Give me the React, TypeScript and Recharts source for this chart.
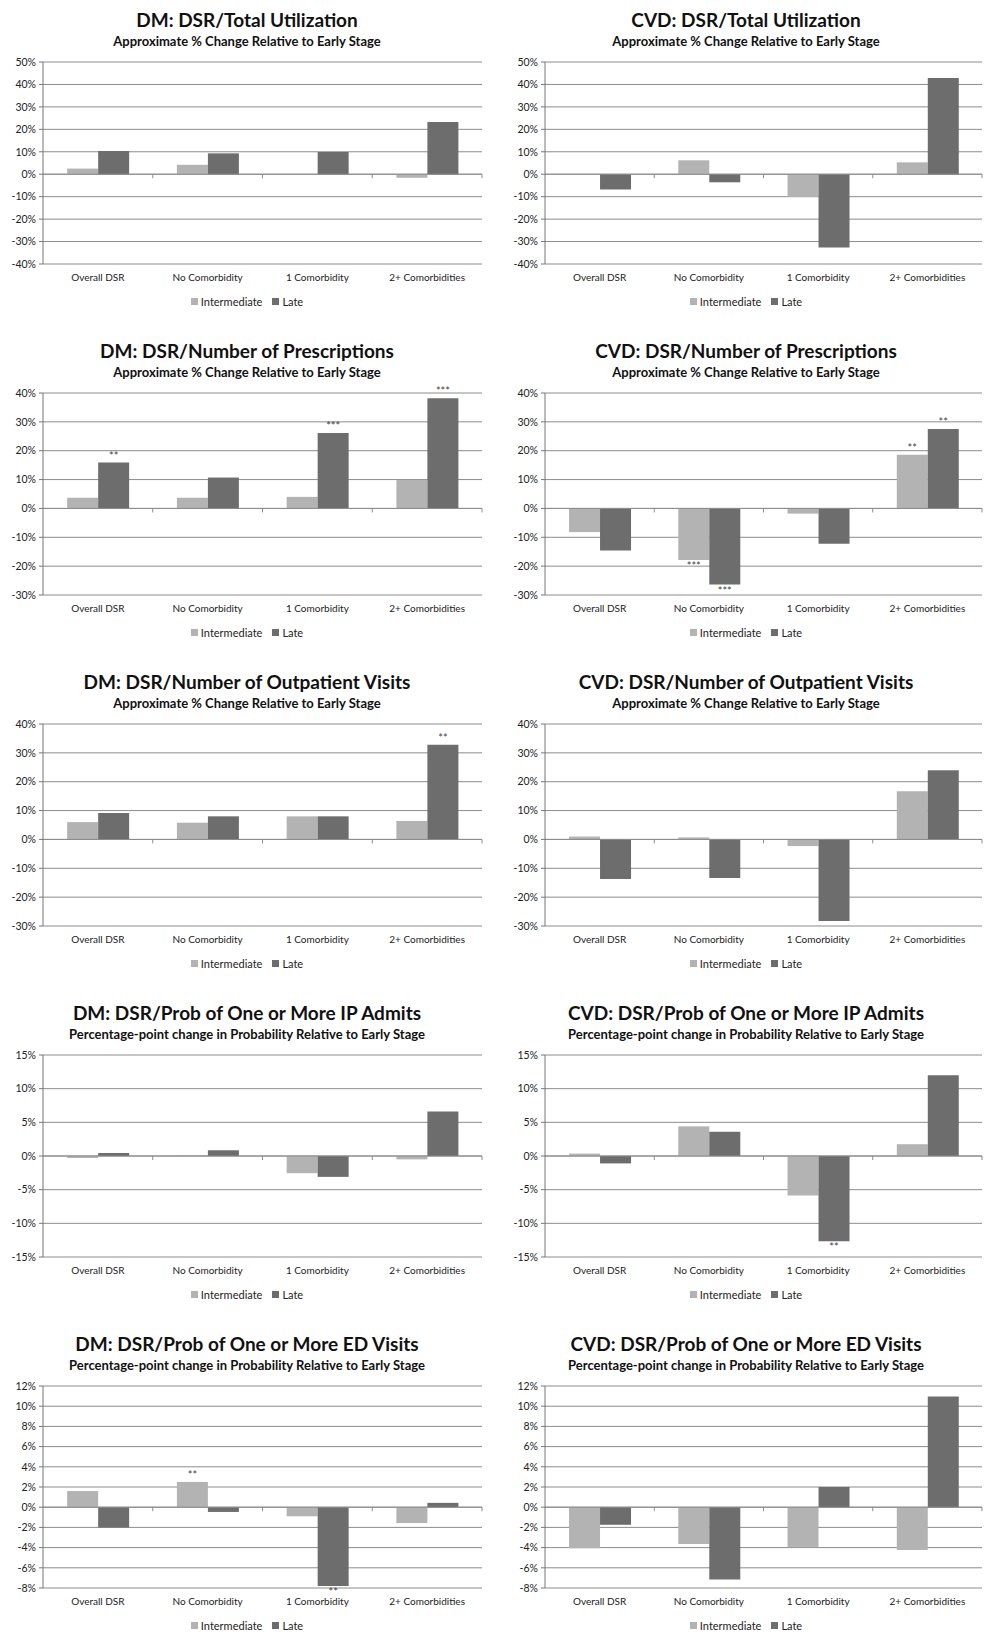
import React from 'react';
import { BarChart, Bar, XAxis, YAxis, CartesianGrid, ReferenceLine, LabelList } from 'recharts';

const categories = ['Overall DSR', 'No Comorbidity', '1 Comorbidity', '2+ Comorbidities'];
const seriesNames = ['Intermediate', 'Late'];

const ticksUtil = [-40, -30, -20, -10, 0, 10, 20, 30, 40, 50];
const ticksRx = [-30, -20, -10, 0, 10, 20, 30, 40];
const ticksIp = [-15, -10, -5, 0, 5, 10, 15];
const ticksEd = [-8, -6, -4, -2, 0, 2, 4, 6, 8, 10, 12];

// DM / CVD values, % change vs early stage
const dmUtilInt = [2.5, 4.2, -0.3, -1.6];
const dmUtilLate = [10.4, 9.3, 9.9, 23.3];
const cvdUtilInt = [0, 6.2, -10.2, 5.3];
const cvdUtilLate = [-6.8, -3.6, -32.6, 42.9];

const dmRxInt = [3.7, 3.7, 4.0, 9.9];
const dmRxLate = [15.9, 10.7, 26.1, 38.2];
const dmRxLateSig = ['**', '', '***', '***'];
const cvdRxInt = [-8.2, -17.9, -1.8, 18.6];
const cvdRxLate = [-14.6, -26.4, -12.2, 27.5];
const cvdRxIntSig = ['', '***', '', '**'];
const cvdRxLateSig = ['', '***', '', '**'];

const dmOpInt = [6.0, 5.8, 8.0, 6.4];
const dmOpLate = [9.2, 8.0, 8.0, 32.8];
const dmOpLateSig = ['', '', '', '**'];
const cvdOpInt = [1.0, 0.7, -2.3, 16.7];
const cvdOpLate = [-13.7, -13.4, -28.3, 24.0];

const dmIpInt = [-0.3, 0.15, -2.55, -0.5];
const dmIpLate = [0.45, 0.85, -3.1, 6.6];
const cvdIpInt = [0.35, 4.4, -5.85, 1.75];
const cvdIpLate = [-1.1, 3.6, -12.65, 12.0];
const cvdIpLateSig = ['', '', '**', ''];

const dmEdInt = [1.6, 2.5, -0.9, -1.57];
const dmEdLate = [-2.0, -0.47, -7.8, 0.43];
const dmEdIntSig = ['', '**', '', ''];
const dmEdLateSig = ['', '', '**', ''];
const cvdEdInt = [-4.07, -3.64, -3.97, -4.23];
const cvdEdLate = [-1.74, -7.15, 2.0, 10.95];

const noSig = ['', '', '', ''];
const subPct = 'Approximate % Change Relative to Early Stage';
const subPp = 'Percentage-point change in Probability Relative to Early Stage';

const panels = [
  { title: 'DM: DSR/Total Utilization', sub: subPct, ticks: ticksUtil, int: dmUtilInt, late: dmUtilLate, intSig: noSig, lateSig: noSig },
  { title: 'CVD: DSR/Total Utilization', sub: subPct, ticks: ticksUtil, int: cvdUtilInt, late: cvdUtilLate, intSig: noSig, lateSig: noSig },
  { title: 'DM: DSR/Number of Prescriptions', sub: subPct, ticks: ticksRx, int: dmRxInt, late: dmRxLate, intSig: noSig, lateSig: dmRxLateSig },
  { title: 'CVD: DSR/Number of Prescriptions', sub: subPct, ticks: ticksRx, int: cvdRxInt, late: cvdRxLate, intSig: cvdRxIntSig, lateSig: cvdRxLateSig },
  { title: 'DM: DSR/Number of Outpatient Visits', sub: subPct, ticks: ticksRx, int: dmOpInt, late: dmOpLate, intSig: noSig, lateSig: dmOpLateSig },
  { title: 'CVD: DSR/Number of Outpatient Visits', sub: subPct, ticks: ticksRx, int: cvdOpInt, late: cvdOpLate, intSig: noSig, lateSig: noSig },
  { title: 'DM: DSR/Prob of One or More IP Admits', sub: subPp, ticks: ticksIp, int: dmIpInt, late: dmIpLate, intSig: noSig, lateSig: noSig },
  { title: 'CVD: DSR/Prob of One or More IP Admits', sub: subPp, ticks: ticksIp, int: cvdIpInt, late: cvdIpLate, intSig: noSig, lateSig: cvdIpLateSig },
  { title: 'DM: DSR/Prob of One or More ED Visits', sub: subPp, ticks: ticksEd, int: dmEdInt, late: dmEdLate, intSig: dmEdIntSig, lateSig: dmEdLateSig },
  { title: 'CVD: DSR/Prob of One or More ED Visits', sub: subPp, ticks: ticksEd, int: cvdEdInt, late: cvdEdLate, intSig: noSig, lateSig: noSig },
];

const FONT = 'Lato, "Open Sans", sans-serif';
const INT_COLOR = '#b3b3b3';
const LATE_COLOR = '#6d6d6d';
const GRID = '#8c8c8c';
const TEXT = '#222';
const ROW_H = 331;
const COL_W = 492;

// zero axis with small tick marks at the category boundaries
const ZeroAxis = (props: any) => {
  const { x1, x2, y1 } = props;
  const step = (x2 - x1) / categories.length;
  return (
    <g>
      <line x1={x1} x2={x2} y1={y1} y2={y1} stroke={GRID} strokeWidth={1} />
      {categories.map((_, i) => (
        <line key={i} x1={x1 + step * (i + 1)} x2={x1 + step * (i + 1)} y1={y1} y2={y1 + 4} stroke={GRID} />
      ))}
    </g>
  );
};

const sigLabel = (vals: number[]) => (props: any) => {
  const { x, y, width, height, value, index } = props;
  if (!value) return null;
  const top = Math.min(y, y + height);
  const bottom = Math.max(y, y + height);
  const neg = vals[index] < 0;
  return (
    <text x={x + width / 2} y={neg ? bottom + 10 : top - 3} textAnchor="middle" fontSize={11} fill="#444" fontFamily={FONT}>
      {value}
    </text>
  );
};

const Panel = ({ p, idx }: { p: any; idx: number }) => {
  const row = Math.floor(idx / 2);
  const col = idx % 2;
  const cx = col === 0 ? 247 : 254;
  const data = categories.map((name, i) => ({
    name,
    int: p.int[i],
    late: p.late[i],
    intSig: p.intSig[i],
    lateSig: p.lateSig[i],
  }));
  const ticks = p.ticks;
  return (
    <div style={{ position: 'absolute', left: col * COL_W, top: row * ROW_H, width: COL_W, height: ROW_H, fontFamily: FONT }}>
      <div style={{ position: 'absolute', left: cx - 246, width: 492, top: 8, textAlign: 'center', fontSize: 19, fontWeight: 700, color: '#111', lineHeight: '24px' }}>
        {p.title}
      </div>
      <div style={{ position: 'absolute', left: cx - 246, width: 492, top: 33, textAlign: 'center', fontSize: 13, fontWeight: 700, color: '#111', lineHeight: '16px' }}>
        {p.sub}
      </div>
      <div style={{ position: 'absolute', left: 0, top: 0 }}>
        <BarChart
          width={COL_W}
          height={ROW_H}
          data={data}
          margin={{ top: 62, right: col === 0 ? 10 : 2, bottom: 37, left: col === 0 ? 5 : 15 }}
          barCategoryGap="22%"
          barGap={0}
        >
          <CartesianGrid vertical={false} stroke={GRID} strokeWidth={1} />
          <XAxis
            dataKey="name"
            axisLine={false}
            tickLine={false}
            tickSize={0}
            tickMargin={10}
            height={30}
            interval={0}
            tick={{ fontSize: 10, fill: TEXT, fontFamily: FONT }}
          />
          <YAxis
            domain={[ticks[0], ticks[ticks.length - 1]]}
            ticks={ticks}
            width={38}
            interval={0}
            axisLine={{ stroke: '#777' }}
            tickLine={{ stroke: '#777' }}
            tickSize={4}
            tickMargin={3}
            tickFormatter={(v: number) => `${v}%`}
            tick={{ fontSize: 10.5, fill: TEXT, fontFamily: FONT }}
          />
          <Bar dataKey="int" fill={INT_COLOR} isAnimationActive={false}>
            <LabelList dataKey="intSig" content={sigLabel(p.int)} />
          </Bar>
          <Bar dataKey="late" fill={LATE_COLOR} isAnimationActive={false}>
            <LabelList dataKey="lateSig" content={sigLabel(p.late)} />
          </Bar>
          <ReferenceLine y={0} shape={ZeroAxis} ifOverflow="visible" />
        </BarChart>
      </div>
      <div style={{ position: 'absolute', left: cx - 100, width: 200, top: 295, display: 'flex', justifyContent: 'center', alignItems: 'center', fontSize: 11, color: TEXT, gap: 10 }}>
        {seriesNames.map((s, i) => (
          <span key={s} style={{ display: 'flex', alignItems: 'center' }}>
            <span style={{ display: 'inline-block', width: 7, height: 7, background: i === 0 ? INT_COLOR : LATE_COLOR, marginRight: 3 }} />
            {s}
          </span>
        ))}
      </div>
    </div>
  );
};

export default function App() {
  return (
    <div style={{ position: 'absolute', left: 0, top: 0, width: 984, height: 1633, background: '#fff', overflow: 'hidden' }}>
      {panels.map((p, i) => (
        <Panel key={i} p={p} idx={i} />
      ))}
    </div>
  );
}
